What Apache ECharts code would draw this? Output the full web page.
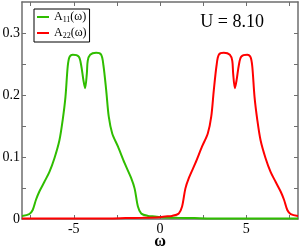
<!DOCTYPE html>
<html><head><meta charset="utf-8">
<script src="https://cdn.jsdelivr.net/npm/echarts@6/dist/echarts.min.js"></script>
<style>html,body{margin:0;padding:0;background:#fff}#c{width:300px;height:247px}</style>
</head><body><div id="c"></div>
<script>
const omegaA11 = [-8,-7.58,-7.38,-7.19,-7.0,-6.7,-6.41,-6.12,-5.83,-5.64,-5.48,-5.35,-5.25,-5.06,-4.71,-4.57,-4.44,-4.34,-4.24,-4.19,-4.05,-3.7,-3.41,-3.28,-3.12,-2.97,-2.77,-2.44,-2.05,-1.67,-1.47,-1.28,-1.09,-0.7,-0.3,0,1,2,3,4,5,6,7,8];
const valuesA11 = [0.005,0.008,0.0145,0.031,0.044,0.06,0.076,0.098,0.127,0.16,0.197,0.246,0.261,0.265,0.262,0.248,0.224,0.211,0.235,0.255,0.265,0.268,0.265,0.248,0.208,0.165,0.138,0.117,0.09,0.066,0.049,0.02,0.009,0.005,0.004,0.003,0.002,0.0015,0.001,0.001,0.001,0.001,0.001,0.001];
const omegaA22 = [-8,-7,-6,-5,-4,-3,-2,-1,0,0.3,0.7,1.09,1.28,1.47,1.67,2.05,2.44,2.77,2.97,3.12,3.28,3.41,3.7,4.05,4.19,4.24,4.34,4.44,4.57,4.71,5.06,5.25,5.35,5.48,5.64,5.83,6.12,6.41,6.7,7.0,7.19,7.38,7.58,8];
const valuesA22 = [0.001,0.001,0.001,0.001,0.001,0.001,0.0015,0.002,0.003,0.004,0.005,0.009,0.02,0.049,0.066,0.09,0.117,0.138,0.165,0.208,0.248,0.265,0.268,0.265,0.255,0.235,0.211,0.224,0.248,0.262,0.265,0.261,0.246,0.197,0.16,0.127,0.098,0.076,0.06,0.044,0.031,0.0145,0.008,0.005];
const xTickValues = [-7.5,-5,-2.5,0,2.5,5,7.5];
const xLabelValues = [-5,0,5];
const yTickValues = [0.05,0.1,0.15,0.2,0.25,0.3];
const yLabelValues = [0,0.1,0.2,0.3];
const seriesNames = ['A11','A22'];
const legendSubs = {A11:'11', A22:'22'};
const titleText = 'U = 8.10';
const xName = 'ω';

const frameColor = '#6e6e6e';
const font = 'Liberation Serif';
function zip(a,b){return a.map((v,i)=>[v,b[i]]);}
const tickStyle = {show:true, inside:true, length:4, lineStyle:{color:frameColor,width:1}};
const lineAx = {show:true, onZero:false, lineStyle:{color:frameColor,width:1.5}};
const chart = echarts.init(document.getElementById('c'), null, {renderer:'canvas'});
chart.setOption({
  animation:false,
  backgroundColor:'#fff',
  grid:{left:22,right:2,top:2,bottom:28,containLabel:false,outerBoundsMode:'none'},
  title:{text:titleText,right:31,top:8,textStyle:{fontFamily:font,fontSize:18,fontWeight:'normal',color:'#000'}},
  legend:{
    left:34, top:9, orient:'vertical', itemGap:3, itemWidth:12, itemHeight:2,
    icon:'rect', borderColor:'#000', borderWidth:1, backgroundColor:'#fff', padding:[2,3,2,3],
    data:seriesNames,
    formatter: n => '{a|A}{s|' + legendSubs[n] + '}{a|(ω)}',
    textStyle:{fontFamily:font, fontSize:12, color:'#000',
      rich:{a:{fontFamily:font,fontSize:12,color:'#000'}, s:{fontFamily:font,fontSize:8,color:'#000',padding:[6,0,0,0]}}}
  },
  xAxis:[
    {type:'value', min:-8, max:8, position:'bottom',
     axisLine:lineAx,
     axisTick:Object.assign({customValues:xTickValues},tickStyle),
     axisLabel:{customValues:xLabelValues, margin:3, fontFamily:font, fontSize:14, color:'#000'},
     splitLine:{show:false},
     name:xName, nameLocation:'middle', nameGap:15, nameMoveOverlap:false,
     nameTextStyle:{fontFamily:font, fontSize:16, fontWeight:'bold', color:'#000', verticalAlign:'top'}},
    {type:'value', min:-8, max:8, position:'top',
     axisLine:lineAx,
     axisTick:Object.assign({customValues:xTickValues},tickStyle),
     axisLabel:{show:false}, splitLine:{show:false}}
  ],
  yAxis:[
    {type:'value', min:0, max:0.35, position:'left',
     axisLine:lineAx,
     axisTick:Object.assign({customValues:yTickValues},tickStyle),
     axisLabel:{customValues:yLabelValues, margin:2, fontFamily:font, fontSize:14, color:'#000'},
     splitLine:{show:false}},
    {type:'value', min:0, max:0.35, position:'right',
     axisLine:lineAx,
     axisTick:Object.assign({customValues:yTickValues},tickStyle),
     axisLabel:{show:false}, splitLine:{show:false}}
  ],
  series:[
    {name:seriesNames[0], type:'line', data:zip(omegaA11,valuesA11), smooth:0.3, showSymbol:false,
     lineStyle:{color:'#2fbd00',width:2}, itemStyle:{color:'#2fbd00'}},
    {name:seriesNames[1], type:'line', data:zip(omegaA22,valuesA22), smooth:0.3, showSymbol:false,
     lineStyle:{color:'#ff0000',width:2}, itemStyle:{color:'#ff0000'}}
  ]
});
</script></body></html>
